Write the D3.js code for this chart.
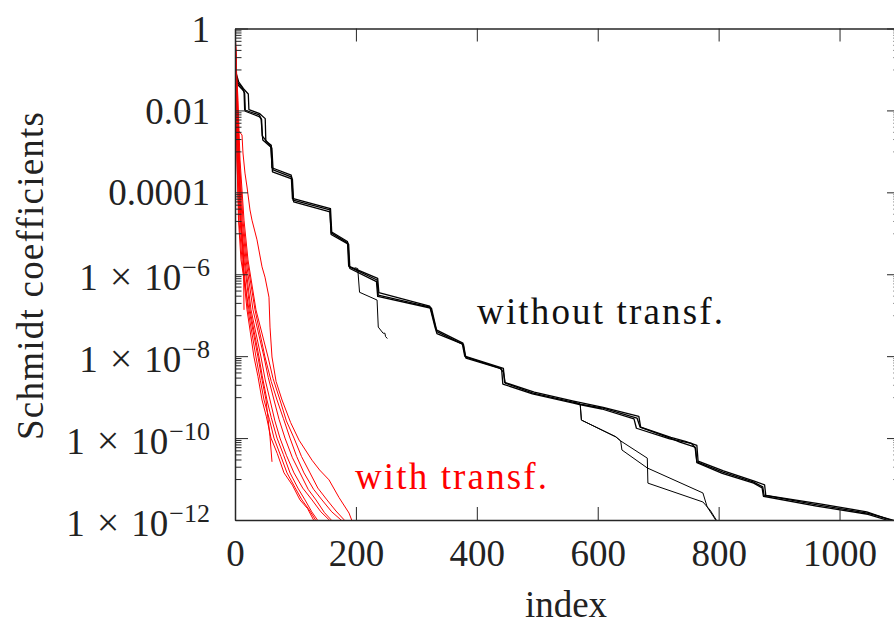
<!DOCTYPE html>
<html>
<head>
<meta charset="utf-8">
<script src="https://cdn.jsdelivr.net/npm/d3@7"></script>
<style>
  body { margin: 0; background: #fff; }
  svg text { font-family: "Liberation Serif", "Times New Roman", serif; }
</style>
</head>
<body>
<script>
// Each point is [index, log10(Schmidt coefficient)]

// without transformation (black), three nearly identical runs
const blackA = [[1, -1.09], [5, -1.33], [12, -1.45], [15, -1.55], [16, -1.99], [40, -2.11], [43, -2.19], [46, -2.72], [61, -2.92], [63, -3.45], [94, -3.63], [96, -4.19], [157, -4.43], [159, -4.99], [187, -5.24], [189, -5.82], [235, -6.14], [237, -6.51], [323, -6.80], [333, -7.36], [377, -7.68], [381, -8.02], [438, -8.29], [444, -8.39], [447, -8.66], [493, -8.90], [559, -9.12], [571, -9.17], [609, -9.27], [665, -9.51], [670, -9.73], [720, -10.0], [736, -10.10], [761, -10.22], [764, -10.58], [807, -10.83], [857, -11.07], [873, -11.19], [875, -11.39], [963, -11.63], [1046, -11.83], [1100, -12.05]];
const blackB = [[1, -1.05], [6, -1.30], [14, -1.47], [22, -1.60], [23, -1.98], [41, -2.08], [50, -2.20], [51, -2.75], [60, -2.85], [61, -3.40], [93, -3.58], [95, -4.15], [158, -4.40], [160, -4.97], [186, -5.20], [188, -5.80], [236, -6.10], [238, -6.45], [322, -6.78], [331, -7.30], [334, -7.45], [376, -7.70], [380, -8.00], [444, -8.30], [446, -8.64], [495, -8.88], [560, -9.10], [609, -9.25], [668, -9.47], [671, -9.73], [721, -9.98], [745, -10.08], [764, -10.18], [766, -10.56], [808, -10.80], [859, -11.05], [876, -11.14], [878, -11.40], [965, -11.60], [1045, -11.80], [1100, -12.08]];
const blackC = [[1, -1.12], [5, -1.38], [13, -1.50], [16, -1.58], [17, -2.02], [40, -2.15], [44, -2.22], [45, -2.62], [59, -2.88], [62, -3.50], [95, -3.68], [97, -4.23], [157, -4.48], [159, -5.03], [188, -5.27], [190, -5.86], [234, -6.18], [236, -6.54], [325, -6.83], [334, -7.40], [378, -7.72], [382, -8.05], [441, -8.31], [443, -8.68], [492, -8.92], [558, -9.14], [570, -9.18], [607, -9.29], [660, -9.53], [664, -9.76], [719, -10.02], [755, -10.13], [762, -10.25], [764, -10.60], [806, -10.86], [858, -11.10], [872, -11.22], [874, -11.42], [962, -11.66], [1047, -11.86], [1100, -12.1]];
// runs that end early
const blackShort = [[198, -5.84], [203, -5.86], [206, -6.44], [235, -6.63], [237, -7.29], [245, -7.44], [248, -7.44], [249, -7.52], [252, -7.57]];
const blackBranch1 = [[559, -9.12], [571, -9.17], [573, -9.56], [630, -9.97], [638, -10.07], [682, -10.49], [683, -11.10], [774, -11.56], [786, -11.76], [797, -12.02]];
const blackBranch2 = [[559, -9.12], [571, -9.17], [573, -9.56], [630, -9.97], [638, -10.07], [640, -10.29], [682, -10.73], [774, -11.34], [781, -11.68], [796, -12.02]];

// with transformation (red)
const red1 = [[1, -0.35], [1.7, -1.75], [3.3, -3.21], [6.6, -4.68], [11.6, -5.65], [19.9, -6.87], [31.4, -8.02], [38, -8.50], [44.7, -9.07], [52, -9.48], [59.6, -10.0], [70, -10.38], [81.1, -10.85], [95, -11.15], [107.5, -11.51], [120, -11.72], [130.7, -12.02]];
const red2 = [[1, -0.45], [2.5, -1.75], [4.1, -3.21], [8.3, -4.68], [13.2, -5.65], [21.5, -6.87], [34.7, -8.02], [42, -8.60], [48, -9.07], [57, -9.55], [64.5, -10.0], [76, -10.45], [86, -10.85], [99, -11.20], [110.8, -11.51], [124, -11.78], [134, -12.02]];
const red3 = [[1, -0.3], [2.5, -1.75], [5, -3.21], [9.1, -4.68], [14.9, -5.65], [24.8, -6.87], [39.7, -8.02], [45, -8.48], [52.9, -9.07], [60, -9.50], [69.5, -10.0], [80, -10.40], [91, -10.85], [104, -11.22], [115.8, -11.51], [127, -11.80], [137.3, -12.02]];
const red4 = [[1, -0.5], [3.3, -1.75], [5.8, -3.21], [9.9, -4.68], [16.5, -5.65], [26.5, -6.87], [43, -8.02], [50, -8.58], [57.9, -9.07], [66, -9.58], [74.4, -10.0], [85, -10.42], [97.6, -10.85], [112, -11.22], [127.4, -11.51], [142, -11.80], [157.2, -12.02]];
const red5 = [[1, -0.4], [3.3, -1.75], [6.6, -3.21], [11.6, -4.68], [18.2, -5.65], [29.8, -6.87], [48, -8.02], [55, -8.52], [64.5, -9.07], [73, -9.55], [82.7, -10.0], [95, -10.48], [107.5, -10.85], [121, -11.25], [134, -11.51], [148, -11.82], [160.5, -12.02]];
const red6 = [[1, -0.55], [4.1, -1.75], [7.4, -3.21], [13.2, -4.68], [19.9, -5.65], [33.1, -6.87], [49.6, -8.02], [60, -8.62], [69.5, -9.07], [80, -9.52], [91, -10.0], [102, -10.45], [114.1, -10.85], [130, -11.25], [143.9, -11.51], [160, -11.80], [177, -12.02]];
const red7 = [[1, -0.6], [5, -1.75], [8.3, -3.21], [14.9, -4.68], [21.5, -5.65], [34.7, -6.87], [54.6, -8.02], [63, -8.55], [74.4, -9.07], [85, -9.58], [97.6, -10.0], [110, -10.45], [124.1, -10.85], [137, -11.22], [152.2, -11.51], [167, -11.78], [182, -12.02]];
const red8 = [[1, -0.4], [3.3, -1.75], [5, -2.48], [11.6, -2.60], [13.2, -3.04], [16.5, -3.53], [19.9, -3.87], [24.8, -4.43], [28.1, -4.68], [36.4, -5.16], [44.7, -5.82], [49.6, -6.07], [56.2, -6.56], [57.9, -7.29], [61.2, -8.02], [68, -8.62], [77.8, -9.07], [92, -9.62], [105.9, -10.05], [127.4, -10.54], [140, -10.78], [155.5, -11.02], [172, -11.45], [188.6, -11.83], [193.5, -12.02]];
const red9 = [[1, -0.5], [1.7, -1.75], [3.3, -3.21], [5.8, -4.68], [9.9, -5.65], [23.2, -6.87], [38, -8.02], [45, -8.60], [51.3, -9.07], [57.9, -9.97], [61.2, -10.58]];
const red10 = [[1, -0.45], [3.3, -1.75], [6.6, -3.21], [9.9, -4.68], [14.1, -5.65], [14.9, -6.87]];

const blackCurves = [blackA, blackB, blackC, blackShort, blackBranch1, blackBranch2];
const redCurves = [red1, red2, red3, red4, red5, red6, red7, red8, red9, red10];

const xTicks = [0, 200, 400, 600, 800, 1000];
const yTicks = [1, 1e-2, 1e-4, 1e-6, 1e-8, 1e-10, 1e-12];
const yTickLabels = ["1", "0.01", "0.0001", "1", "1", "1", "1"];
const yTickExps = ["", "", "", "−6", "−8", "−10", "−12"];

const width = 894, height = 625;
const plotLeft = 235, plotRight = 900, plotTop = 28.5, plotBottom = 520;

const svg = d3.select("body").append("svg")
    .attr("width", width)
    .attr("height", height);

const x = d3.scaleLinear().domain([0, 1100]).range([plotLeft, plotRight]);
const y = d3.scaleLog().domain([1e-12, 1]).range([plotBottom, plotTop]);

// minor ticks: 1..9 times the decade below each labelled tick
const minorTicks = [];
yTicks.forEach(t => {
    for (let k = 1; k <= 9; k++) {
        const v = k * t / 10;
        if (v >= 1e-12) minorTicks.push(v);
    }
});

svg.append("clipPath").attr("id", "plot")
    .append("rect")
    .attr("x", plotLeft).attr("y", plotTop)
    .attr("width", plotRight - plotLeft).attr("height", plotBottom - plotTop);

const line = d3.line()
    .x(d => x(d[0]))
    .y(d => y(Math.pow(10, d[1])));

const curves = svg.append("g").attr("clip-path", "url(#plot)");

blackCurves.forEach((c, i) => {
    curves.append("path")
        .attr("d", line(c))
        .attr("fill", "none")
        .attr("stroke", "#000")
        .attr("stroke-width", i < 3 ? 1.3 : 1)
        .attr("stroke-linejoin", "round");
});

redCurves.forEach(c => {
    curves.append("path")
        .attr("d", line(c))
        .attr("fill", "none")
        .attr("stroke", "#ff0000")
        .attr("stroke-width", 1)
        .attr("stroke-linejoin", "round");
});

// axes
const axisColor = "#262626";

const gx = svg.append("g")
    .attr("transform", "translate(0," + plotBottom + ")")
    .call(d3.axisBottom(x).tickValues(xTicks).tickSizeInner(-13).tickSizeOuter(0)
        .tickPadding(20).tickFormat(d3.format("d")));

svg.append("g")
    .attr("transform", "translate(0," + plotTop + ")")
    .call(d3.axisTop(x).tickValues(xTicks).tickSizeInner(-13).tickSizeOuter(0).tickFormat(""));

const gy = svg.append("g")
    .attr("transform", "translate(" + plotLeft + ",0)")
    .call(d3.axisLeft(y).tickValues(yTicks).tickSizeInner(-13).tickSizeOuter(0)
        .tickPadding(25).tickFormat(""));

svg.append("g")
    .attr("transform", "translate(" + plotLeft + ",0)")
    .call(d3.axisLeft(y).tickValues(minorTicks).tickSizeInner(-6.5).tickSizeOuter(0).tickFormat(""))
    .call(g => g.select(".domain").remove());

svg.append("g")
    .attr("transform", "translate(" + plotRight + ",0)")
    .call(d3.axisRight(y).tickValues(yTicks).tickSizeInner(-13).tickSizeOuter(0).tickFormat(""));

svg.append("g")
    .attr("transform", "translate(" + plotRight + ",0)")
    .call(d3.axisRight(y).tickValues(minorTicks).tickSizeInner(-6.5).tickSizeOuter(0).tickFormat(""))
    .call(g => g.select(".domain").remove());

svg.selectAll(".domain").attr("stroke", axisColor).attr("stroke-width", 1.5);
svg.selectAll(".tick line").attr("stroke", axisColor).attr("stroke-width", 1);

gx.selectAll("text")
    .attr("font-family", "Liberation Serif")
    .attr("font-size", 37)
    .attr("fill", "#222");

gy.selectAll(".tick text").each(function(d, i) {
    const t = d3.select(this)
        .attr("font-family", "Liberation Serif")
        .attr("font-size", 37)
        .attr("fill", "#222")
        .text(null);
    if (yTickExps[i] === "") {
        t.attr("dy", "0.34em").text(yTickLabels[i]);
    } else {
        t.attr("dy", 15);
        t.append("tspan").text(yTickLabels[i]);
        t.append("tspan").attr("dx", 12).attr("font-size", 40).text("×");
        t.append("tspan").attr("dx", 12).text("10");
        t.append("tspan").attr("font-size", 26).attr("dx", 1).attr("dy", -14).text(yTickExps[i]);
    }
});

// axis titles
svg.append("text")
    .attr("x", 566)
    .attr("y", 617)
    .attr("text-anchor", "middle")
    .attr("font-size", 37)
    .attr("fill", "#222")
    .text("index");

svg.append("text")
    .attr("transform", "translate(43,276) rotate(-90)")
    .attr("text-anchor", "middle")
    .attr("font-size", 37)
    .attr("fill", "#222")
    .attr("textLength", 328)
    .attr("lengthAdjust", "spacing")
    .text("Schmidt coefficients");

// curve labels
svg.append("text")
    .attr("x", 477)
    .attr("y", 324)
    .attr("font-size", 37)
    .attr("fill", "#111")
    .attr("textLength", 246)
    .attr("lengthAdjust", "spacing")
    .text("without transf.");

svg.append("text")
    .attr("x", 355)
    .attr("y", 489)
    .attr("font-size", 37)
    .attr("fill", "#ff0000")
    .attr("textLength", 192)
    .attr("lengthAdjust", "spacing")
    .text("with transf.");
</script>
</body>
</html>
